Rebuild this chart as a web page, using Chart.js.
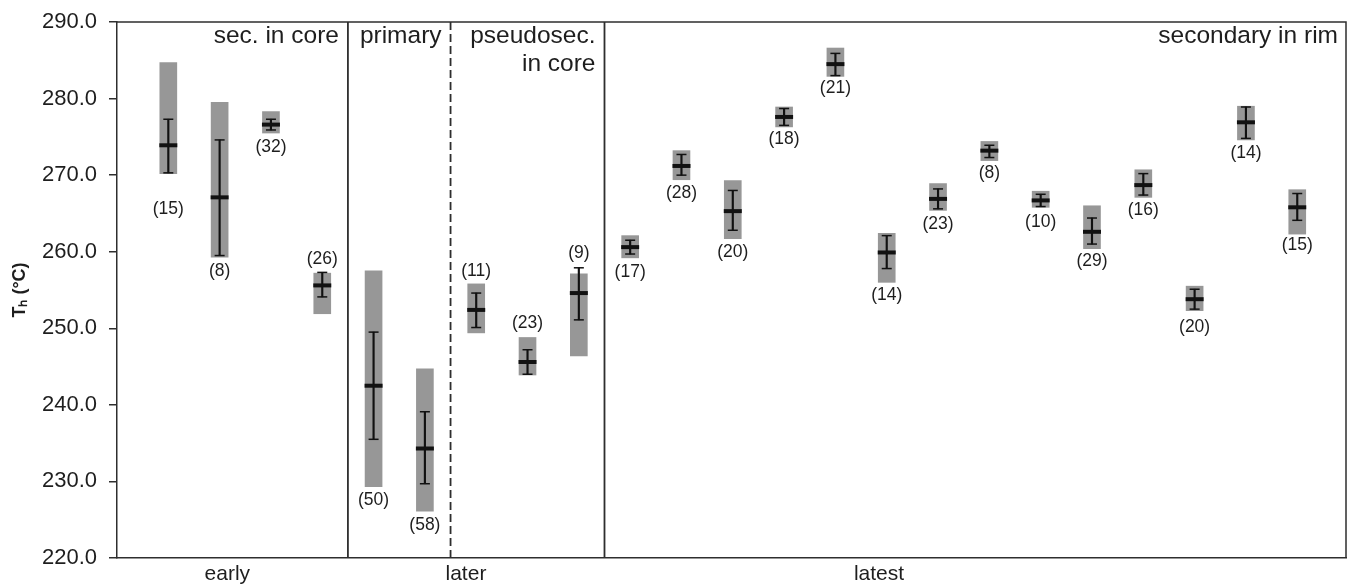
<!DOCTYPE html>
<html>
<head>
<meta charset="utf-8">
<script src="https://cdn.jsdelivr.net/npm/chart.js@4/dist/chart.umd.min.js"></script>
<style>
  html, body { margin: 0; padding: 0; background: #fff; }
  #wrap { width: 1348px; height: 584px; position: relative; }
</style>
</head>
<body>
<div id="wrap"><canvas id="thChart"></canvas></div>
<script>
// inclusion groups along the x axis, left to right
let groups = ["sec. in core", "primary", "pseudosec.\nin core", "secondary in rim"];
let groupSize = [4, 2, 3, 14];

// timing labels under the axis and where they sit (x units)
let stages = ["early", "later", "latest"];
let stageAt = [1.15, 5.8, 13.85];

// number of inclusions per population
let counts = [15, 8, 32, 26, 50, 58, 11, 23, 9, 17, 28, 20, 18, 21, 14, 23, 8, 10, 29, 16, 20, 14, 15];

// min-max range (grey box)
let rangeLo = [270.2, 259.3, 275.5, 251.9, 229.3, 226.1, 249.4, 243.9, 246.4, 259.2, 269.4, 261.7, 276.3, 282.9, 256.0, 265.4, 271.9, 265.8, 260.4, 267.1, 252.3, 274.6, 262.3];
let rangeHi = [284.7, 279.5, 278.3, 257.2, 257.5, 244.7, 255.8, 248.8, 257.1, 262.1, 273.2, 269.3, 278.9, 286.6, 262.4, 268.9, 274.4, 267.9, 266.0, 270.7, 255.5, 279.0, 268.1];

// standard deviation bars
let sdLo = [270.3, 259.5, 275.9, 254.1, 235.5, 229.7, 250.1, 244.0, 251.1, 259.7, 270.0, 262.8, 276.5, 283.0, 257.8, 265.6, 272.3, 265.9, 261.0, 267.4, 252.5, 274.8, 264.1];
let sdHi = [277.3, 274.6, 277.3, 257.3, 249.5, 239.1, 254.6, 247.2, 257.9, 261.5, 272.7, 268.0, 278.7, 285.9, 262.1, 268.2, 273.9, 267.5, 264.4, 270.2, 255.1, 278.9, 267.6];

// mean Th
let means = [273.9, 267.1, 276.6, 255.6, 242.5, 234.3, 252.4, 245.6, 254.6, 260.6, 271.2, 265.3, 277.6, 284.5, 259.9, 266.9, 273.2, 266.7, 262.6, 268.7, 253.8, 276.9, 265.8];

// where the "(n)" label of each population is written (Th units)
let countAt = [265.6, 257.4, 273.7, 259.0, 227.5, 224.3, 257.5, 250.7, 259.8, 257.3, 267.7, 260.0, 274.7, 281.4, 254.3, 263.6, 270.3, 263.9, 258.7, 265.4, 250.2, 272.9, 260.8];

let yTicks = [220, 230, 240, 250, 260, 270, 280, 290];

const FONT = "'Liberation Sans', Arial, sans-serif";
const LINE = "#2e2e2e";

let idx = counts.map((c, i) => i);

// frame, group separators, group names and (n) labels
const decor = {
  id: "decor",
  afterDatasetsDraw(chart) {
    const c = chart.ctx, a = chart.chartArea;
    const xs = chart.scales.x, ys = chart.scales.y;
    c.save();
    c.strokeStyle = LINE;
    c.lineWidth = 1.5;
    c.beginPath();
    c.moveTo(a.left, a.top); c.lineTo(a.right, a.top); c.lineTo(a.right, a.bottom);
    c.stroke();

    // separators between groups
    let edge = -0.5, edges = [];
    groupSize.forEach(n => { edge += n; edges.push(edge); });
    c.lineWidth = 1.8;
    edges.slice(0, -1).forEach((e, k) => {
      const px = xs.getPixelForValue(e);
      c.setLineDash(k === 1 ? [8, 4] : []);
      c.beginPath(); c.moveTo(px, a.top); c.lineTo(px, a.bottom); c.stroke();
    });
    c.setLineDash([]);

    // group names, right aligned inside each group
    c.fillStyle = "#1e1e1e";
    c.font = "24.5px " + FONT;
    c.textAlign = "right";
    c.textBaseline = "alphabetic";
    groups.forEach((g, k) => {
      const right = k === groups.length - 1 ? a.right - 8 : xs.getPixelForValue(edges[k]) - 9;
      g.split("\n").forEach((ln, j) => c.fillText(ln, right, a.top + 21 + j * 28));
    });

    // population sizes
    c.font = "17.5px " + FONT;
    c.textAlign = "center";
    c.textBaseline = "middle";
    counts.forEach((n, i) => {
      c.fillText("(" + n + ")", xs.getPixelForValue(i), ys.getPixelForValue(countAt[i]));
    });
    c.restore();
  }
};

new Chart(document.getElementById("thChart"), {
  type: "bar",
  data: {
    datasets: [
      {
        type: "line", showLine: false, order: 0,
        data: idx.map(i => ({ x: i, y: means[i] })),
        pointStyle: "line", pointRadius: 9, borderWidth: 4,
        borderColor: "#111", backgroundColor: "#111"
      },
      {
        type: "line", showLine: false, order: 1,
        data: idx.map(i => ({ x: i, y: sdLo[i] })).concat(idx.map(i => ({ x: i, y: sdHi[i] }))),
        pointStyle: "line", pointRadius: 5, borderWidth: 1.5,
        borderColor: "#111", backgroundColor: "#111"
      },
      {
        order: 2, grouped: false,
        data: idx.map(i => ({ x: i, y: [sdLo[i], sdHi[i]] })),
        backgroundColor: "#111", barThickness: 1.5, borderWidth: 0
      },
      {
        order: 3, grouped: false,
        data: idx.map(i => ({ x: i, y: [rangeLo[i], rangeHi[i]] })),
        backgroundColor: "#979797", barThickness: 17, borderWidth: 0
      }
    ]
  },
  options: {
    responsive: true,
    maintainAspectRatio: false,
    animation: false,
    events: [],
    layout: { autoPadding: false, padding: { top: 22, right: 2, left: 0, bottom: 0 } },
    plugins: { legend: { display: false }, tooltip: { enabled: false } },
    scales: {
      x: {
        type: "linear", min: -1, max: 22.95, offset: false,
        afterBuildTicks: s => { s.ticks = stageAt.map(v => ({ value: v })); },
        afterFit: s => { s.height = 26; s.paddingLeft = 0; s.paddingRight = 0; },
        grid: { display: false, drawTicks: false },
        border: { display: true, color: LINE, width: 1.5 },
        ticks: {
          autoSkip: false, maxRotation: 0, padding: 4,
          color: "#1e1e1e", font: { family: FONT, size: 21 },
          callback: (v, i) => stages[i]
        }
      },
      y: {
        min: 220, max: 290,
        afterBuildTicks: s => { s.ticks = yTicks.map(v => ({ value: v })); },
        afterFit: s => { s.width = 117; s.paddingTop = 0; s.paddingBottom = 0; },
        grid: { drawOnChartArea: false, drawTicks: true, tickLength: 8, color: LINE, lineWidth: 1.5 },
        border: { display: true, color: LINE, width: 1.5 },
        ticks: {
          padding: 12, color: "#1e1e1e", font: { family: FONT, size: 22 },
          callback: v => v.toFixed(1)
        },
        title: {
          display: true, text: "Tₕ (°C)", color: "#1e1e1e",
          font: { family: FONT, size: 18, weight: "bold" },
          padding: { top: 9, bottom: 0 }
        }
      }
    }
  },
  plugins: [decor]
});
</script>
</body>
</html>
